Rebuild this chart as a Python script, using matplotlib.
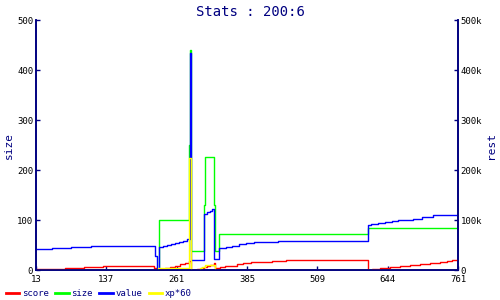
import matplotlib
matplotlib.use("Agg")
import matplotlib.pyplot as plt

# x axis tick labels (evenly spaced)
x_ticklabels = ["13", "137", "261", "385", "509", "644", "761"]

# value series (right axis, thousands)
value_x = [13, 41, 74.5, 110, 224, 227.5, 231, 238, 245, 252, 259, 266.5, 274, 281, 286, 287, 288,
           310, 316, 321, 325, 328, 338, 349, 361, 373, 386, 399, 416, 442, 602, 606, 620, 632,
           643.5, 655, 667, 682, 697, 717, 761]
value_k = [42.4, 43.6, 46.4, 48.4, 27.6, 1, 45.6, 47.6, 49.6, 51.6, 53.6, 56.4, 59, 61.6, 434, 226, 19.6,
           113, 116, 119, 122, 22.4, 44.4, 46.4, 49, 51.6, 53.6, 55.6, 57, 58.4, 91, 92.4, 94.4, 95.6,
           97.6, 99.6, 101, 103, 105.6, 110.4, 110.4]

# size series (left axis)
size_x = [13, 231, 285, 286, 287, 311, 313, 328, 331, 338, 602, 761]
size_v = [1, 100, 250, 441, 37.6, 131, 226, 131, 37.6, 72.6, 84.4, 84.4]

# score series (right axis, thousands)
score_x = [13, 31, 64, 98, 132, 222, 227, 233, 242, 250.5, 259, 268, 277, 285, 287, 298, 306, 311,
           316, 322, 328, 331, 339, 348, 368.7, 380.5, 393.5, 407, 431, 456, 602, 608, 623, 640,
           658, 676, 694, 711, 729, 741, 750, 761]
score_k = [1.6, 3, 4.4, 6.4, 8.4, 4.4, 1, 1.6, 4.4, 7, 9, 11.6, 15, 19, 1, 1.4, 3.4, 6,
           8.4, 11, 14.4, 4.4, 5.6, 8.4, 11.6, 13.6, 15.6, 17, 18.4, 20.4, 0.6, 1.6, 3.6, 5.6,
           7.6, 10.4, 12.4, 14.4, 17, 19, 20.4, 20.4]

# xp*60 series (right axis, thousands)
xp_x = [13, 229, 285, 287, 300, 304, 308, 312, 318, 324, 330, 761]
xp_k = [0.8, 4, 225, 0.8, 1, 4, 7, 9.4, 10.4, 11, 1, 1]

navy = "#000080"
mono = "DejaVu Sans Mono"

fig = plt.figure(figsize=(5, 3), dpi=100)
ax = fig.add_axes([0.072, 0.1, 0.844, 0.833])
ax2 = ax.twinx()

lw = 1.0
ax2.plot(score_x, [v * 1000 for v in score_k], color="#ff0000", lw=lw, drawstyle="steps-post", label="score")
ax.plot(size_x, size_v, color="#00ff00", lw=lw, drawstyle="steps-post", label="size")
ax2.plot(value_x, [v * 1000 for v in value_k], color="#0000ff", lw=lw, drawstyle="steps-post", label="value")
ax2.plot(xp_x, [v * 1000 for v in xp_k], color="#ffff00", lw=lw, drawstyle="steps-post", label="xp*60")

ax.set_xlim(13, 761)
ax.set_ylim(0, 500)
ax2.set_ylim(0, 500000)

xt = [13 + i * (761 - 13) / 6 for i in range(7)]
ax.set_xticks(xt)
ax.set_xticklabels(x_ticklabels)
ax.set_yticks([0, 100, 200, 300, 400, 500])
ax2.set_yticks([0, 100000, 200000, 300000, 400000, 500000])
ax2.set_yticklabels(["0", "100k", "200k", "300k", "400k", "500k"])

for a in (ax, ax2):
    a.tick_params(direction="in", length=3, width=1, color=navy, labelsize=6.5, pad=2)
    for lab in a.get_xticklabels() + a.get_yticklabels():
        lab.set_family(mono)
    a.spines["top"].set_visible(False)
    for s in ("left", "right", "bottom"):
        a.spines[s].set_color(navy)
        a.spines[s].set_linewidth(1.2)
ax.tick_params(axis="x", pad=3.5)

ax.set_ylabel("size", color=navy, fontsize=8, family=mono)
ax2.set_ylabel("rest", color=navy, fontsize=8, family=mono)
ax.yaxis.set_label_coords(-0.052, 0.5)
ax2.yaxis.set_label_coords(1.066, 0.5)
fig.suptitle("Stats : 200:6", color=navy, fontsize=10, family=mono, y=0.985)

h1, l1 = ax2.get_legend_handles_labels()
h0, l0 = ax.get_legend_handles_labels()
handles = [h1[0], h0[0], h1[1], h1[2]]
labels = ["score", "size", "value", "xp*60"]
leg = fig.legend(handles, labels, loc="lower left", bbox_to_anchor=(-0.005, -0.02), ncol=4,
                 frameon=False, handlelength=1.5, handletextpad=0.3, columnspacing=0.7,
                 prop={"family": mono, "size": 6.5})
for t in leg.get_texts():
    t.set_color(navy)
for line in leg.get_lines():
    line.set_linewidth(2)

fig.savefig("out.png", dpi=100)
